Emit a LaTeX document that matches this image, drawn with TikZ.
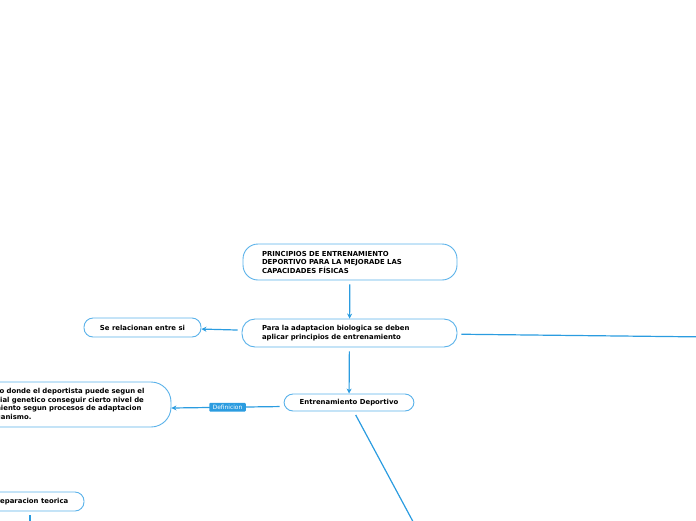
\documentclass[tikz,border=0pt]{standalone}
\usepackage{fontspec}
\setmainfont{DejaVu Sans}
\usetikzlibrary{arrows.meta}
\definecolor{linea}{HTML}{2B9CE0}
\definecolor{borde}{HTML}{5AB2EA}
\tikzset{
  tema/.style={draw=borde, line width=0.9pt, rounded corners=#1, fill=white,
    font=\fontsize{6.9}{8.5}\selectfont\bfseries},
  tema/.default=9pt,
  enlace/.style={draw=linea, line width=1.2pt, shorten <=4pt},
  etiqueta/.style={fill=linea, text=white, rounded corners=1pt, inner xsep=3.5pt,
    inner ysep=2pt, font=\fontsize{5.9}{6}\selectfont}
}
\begin{document}
\begin{tikzpicture}[x=1pt, y=-1pt, >={Stealth[length=5pt,width=5pt]}]
    \useasboundingbox (0,0) rectangle (696,520);
    \clip (0,0) rectangle (696,520);
    \node[tema=15pt, text width=176pt, inner xsep=19pt, minimum height=36pt, align=left] (p) at (350,262) {PRINCIPIOS DE ENTRENAMIENTO\\DEPORTIVO PARA LA MEJORADE LAS\\CAPACIDADES FÍSICAS};
    \node[tema=13pt, text width=175pt, inner xsep=20pt, minimum height=28pt, align=left] (a) at (349.5,333) {Para la adaptacion biologica se deben\\aplicar principios de entrenamiento};
    \node[tema, minimum width=117pt, minimum height=19pt] (s) at (142.5,327.5) {Se relacionan entre si};
    \node[tema, minimum width=130pt, minimum height=17pt] (e) at (349,402.5) {Entrenamiento Deportivo};
    \node[tema=20pt, text width=177.5pt, inner xsep=20pt, minimum height=45pt, align=left] (d) at (62.25,404.5) {Proceso donde el deportista puede segun el\\potencial genetico conseguir cierto nivel de\\rendimiento segun procesos de adaptacion\\del organismo.};
    \node[tema, minimum width=108pt, minimum height=19pt] (t) at (30,501.5) {Preparacion teorica};
    \coordinate (r) at (800,338); \coordinate (u) at (457,603.5); \coordinate (v) at (30,560);
    \draw[enlace,->] (p) -- (a); \draw[enlace,->] (a) -- (e);
    \draw[enlace,->] (a) -- (s); \draw[enlace] (a) -- (r);
    \draw[enlace,->] ([yshift=-4pt]e.west) -- node[etiqueta] {Definicion} ([yshift=-3.5pt]d.east);
    \draw[enlace] (e) -- (u); \draw[enlace] (t) -- (v);
  \end{tikzpicture}
\end{document}
